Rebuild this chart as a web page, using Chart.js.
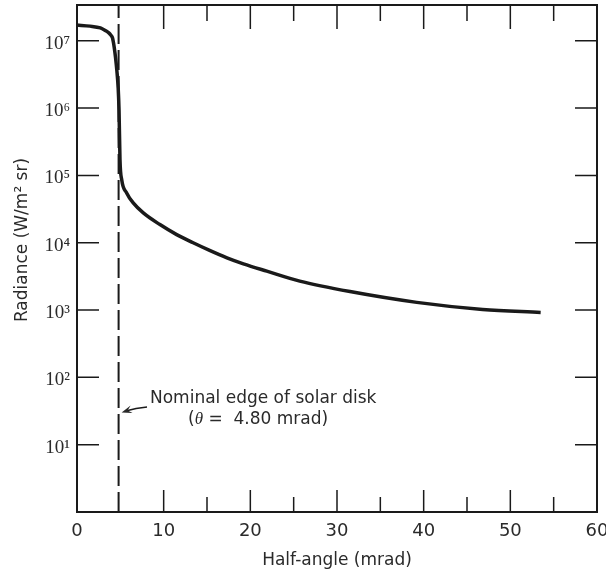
<!DOCTYPE html>
<html lang="en">
<head>
  <meta charset="UTF-8" />
  <title>Solar radiance vs half-angle</title>
  <style>
    body{margin:0;background:#fff}
    #wrap{width:606px;height:575px}
    canvas{display:block}
  </style>
</head>
<body>
  <div id="wrap"><canvas id="chart" width="606" height="575"></canvas></div>

  <script src="https://cdn.jsdelivr.net/npm/chart.js"></script>
  <script>
  /* ---------- data ---------- */
  const halfAngle = [0, 1.5, 2.7, 3.3, 3.6, 3.85, 4.0, 4.1, 4.2, 4.3, 4.45, 4.6, 4.75, 4.85, 4.96, 5.16, 5.73, 6.49,
                     7.65, 9.57, 11.5, 13.4, 15.3, 17.3, 19.2, 21.9, 25.7, 31.5, 39.2, 46.8, 53.5];
  const radiance  = [1.71e7, 1.65e7, 1.55e7, 1.41e7, 1.33e7, 1.24e7, 1.17e7, 1.10e7, 9.5e6, 7.9e6, 5.6e6, 3.6e6, 2.0e6, 9.3e5, 1.71e5, 8.6e4, 5.5e4, 3.9e4,
                     2.77e4, 1.86e4, 1.32e4, 1.0e4, 7.7e3, 5.97e3, 4.86e3, 3.78e3, 2.69e3, 1.88e3, 1.30e3, 1.02e3, 9.2e2];
  const edgeAngle = 4.80;          // nominal edge of solar disk, mrad
  const radianceMin = 1, radianceMax = 3.4e7;
  const decadeTicks = [1e1, 1e2, 1e3, 1e4, 1e5, 1e6, 1e7];
  const xMajorTicks = [10, 20, 30, 40, 50];
  const xMinorTicks = [15, 25, 35, 45, 55];

  const INK = '#1a1a1a';
  const SUP = ['⁰','¹','²','³','⁴','⁵','⁶','⁷','⁸','⁹'];

  /* ---------- frame, inward ticks, titles, note ---------- */
  const decor = {
    id: 'decor',
    afterDatasetsDraw(chart) {
      const {ctx, chartArea: a, scales: {x, y}} = chart;
      ctx.save();
      ctx.strokeStyle = INK;
      ctx.lineWidth = 2;
      ctx.strokeRect(a.left, a.top, a.right - a.left, a.bottom - a.top);

      ctx.lineWidth = 1.5;
      ctx.beginPath();
      decadeTicks.forEach(v => {
        const py = y.getPixelForValue(v);
        ctx.moveTo(a.left, py);  ctx.lineTo(a.left + 22, py);
        ctx.moveTo(a.right, py); ctx.lineTo(a.right - 22, py);
      });
      xMajorTicks.forEach(v => {
        const px = x.getPixelForValue(v);
        ctx.moveTo(px, a.bottom); ctx.lineTo(px, a.bottom - 22);
        ctx.moveTo(px, a.top);    ctx.lineTo(px, a.top + 24);
      });
      xMinorTicks.forEach(v => {
        const px = x.getPixelForValue(v);
        ctx.moveTo(px, a.bottom); ctx.lineTo(px, a.bottom - 15);
        ctx.moveTo(px, a.top);    ctx.lineTo(px, a.top + 16);
      });
      ctx.stroke();

      // axis titles
      ctx.fillStyle = '#2a2a2a';
      ctx.font = '17px "DejaVu Sans"';
      ctx.textAlign = 'center';
      ctx.textBaseline = 'alphabetic';
      ctx.fillText('Half-angle (mrad)', (a.left + a.right) / 2, 565);
      ctx.save();
      ctx.translate(27, 240);
      ctx.rotate(-Math.PI / 2);
      ctx.fillText('Radiance (W/m² sr)', 0, 0);
      ctx.restore();

      // annotation for the disk edge
      ctx.textAlign = 'left';
      ctx.fillText('Nominal edge of solar disk', 150, 403);
      let tx = 188;
      ctx.fillText('(', tx, 424); tx += ctx.measureText('(').width;
      ctx.font = 'italic 17px "Liberation Serif"';
      ctx.fillText('θ', tx, 424); tx += ctx.measureText('θ').width;
      ctx.font = '17px "DejaVu Sans"';
      ctx.fillText(' =  4.80 mrad)', tx, 424);

      const tipX = x.getPixelForValue(edgeAngle) + 3;
      const tipY = y.getPixelForValue(30);
      ctx.lineWidth = 1.5;
      ctx.beginPath();
      ctx.moveTo(147, 407);
      ctx.quadraticCurveTo(136, 408, tipX + 4, tipY - 1.5);
      ctx.stroke();
      ctx.beginPath();
      ctx.moveTo(tipX, tipY);
      ctx.lineTo(tipX + 9, tipY - 7);
      ctx.lineTo(tipX + 6, tipY - 2);
      ctx.lineTo(tipX + 11, tipY + 0.5);
      ctx.closePath();
      ctx.fill();
      ctx.restore();
    }
  };

  /* ---------- chart ---------- */
  const ctx = document.getElementById('chart').getContext('2d');
  new Chart(ctx, {
    type: 'line',
    data: {
      datasets: [
        { data: halfAngle.map((v, i) => ({x: v, y: radiance[i]})),
          borderColor: INK, borderWidth: 3.5, pointRadius: 0,
          cubicInterpolationMode: 'monotone', borderCapStyle: 'butt' },
        { data: [{x: edgeAngle, y: radianceMin}, {x: edgeAngle, y: radianceMax}],
          borderColor: INK, borderWidth: 2, pointRadius: 0, borderDash: [20, 6] }
      ]
    },
    options: {
      responsive: false, animation: false,
      layout: { padding: {left: 0, top: 5, right: 9, bottom: 0} },
      plugins: { legend: {display: false}, tooltip: {enabled: false} },
      scales: {
        x: {
          type: 'linear', min: 0, max: 60,
          grid: {display: false, drawTicks: false}, border: {display: false},
          ticks: { stepSize: 10, maxRotation: 0, padding: 9, color: '#2a2a2a',
                   font: {family: 'DejaVu Sans', size: 18} },
          afterFit: s => { s.height = 63; s.paddingLeft = 0; s.paddingRight = 0; }
        },
        y: {
          type: 'logarithmic', min: radianceMin, max: radianceMax,
          grid: {display: false, drawTicks: false}, border: {display: false},
          afterBuildTicks: s => { s.ticks = decadeTicks.map(v => ({value: v})); },
          ticks: { padding: 7, labelOffset: 3, color: '#2a2a2a',
                   font: {family: 'Liberation Serif', size: 19},
                   callback: v => '10' + SUP[Math.round(Math.log10(v))] },
          afterFit: s => { s.width = 77; s.paddingTop = 0; s.paddingBottom = 0; }
        }
      }
    },
    plugins: [decor]
  });
  </script>
</body>
</html>
